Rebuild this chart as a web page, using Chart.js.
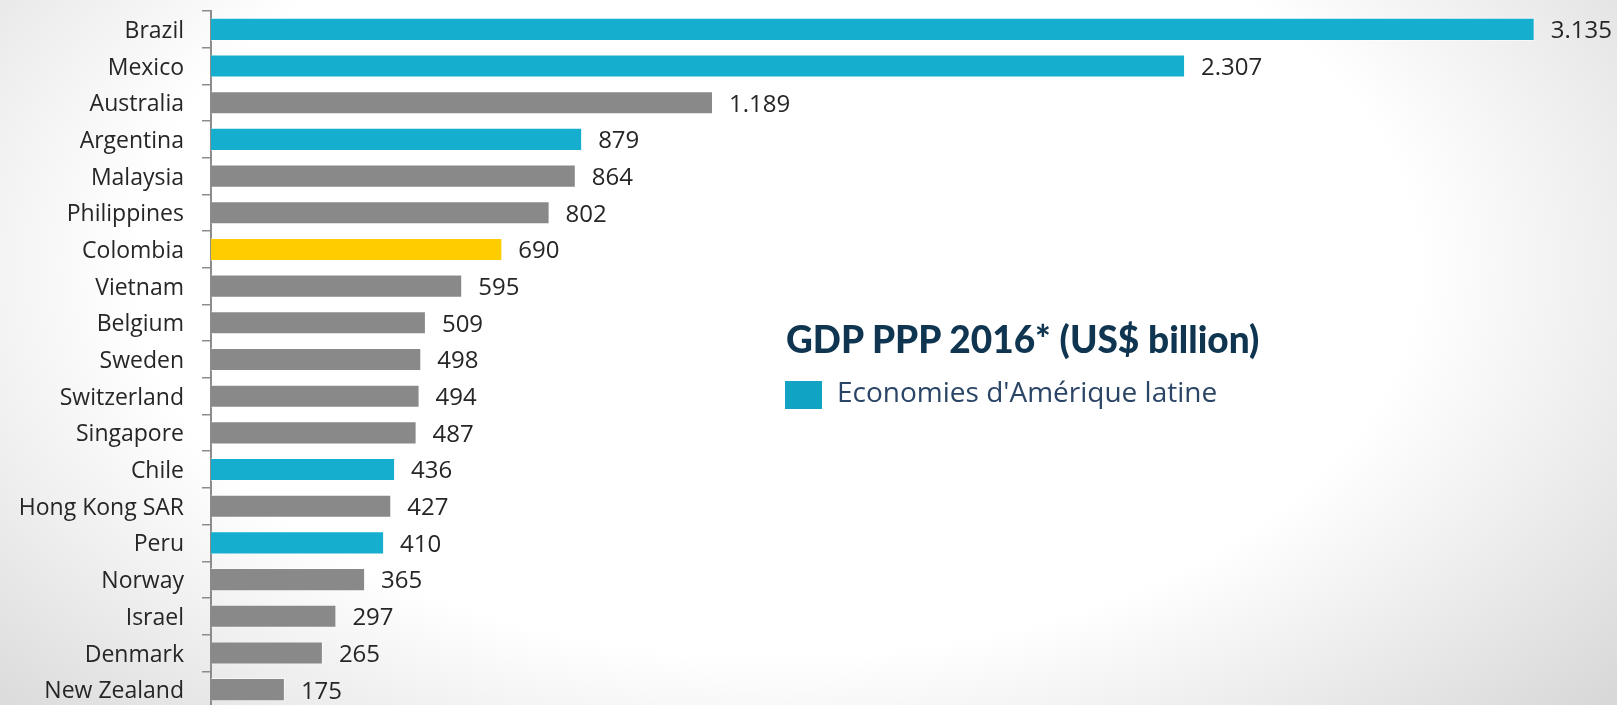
<!DOCTYPE html>
<html>
<head>
<meta charset="utf-8">
<script src="https://cdn.jsdelivr.net/npm/chart.js@4.4.1/dist/chart.umd.min.js"></script>
<style>
  html, body { margin: 0; padding: 0; overflow: hidden; }
  body {
    width: 1617px; height: 705px; position: relative;
    background: radial-gradient(ellipse 72% 100% at 48% 38%, #ffffff 55%, #d2d2d2 100%);
  }
  #wrap { position: absolute; left: 0; top: 0; width: 1617px; height: 720px; }
  #title {
    position: absolute; left: 786px; top: 316px;
    font: 900 37px Lato, sans-serif; color: #0f3550; white-space: nowrap;
  }
  #legendBox {
    position: absolute; left: 785px; top: 381px; width: 37px; height: 28px; background: #10a3c4;
  }
  #legendText {
    position: absolute; left: 837px; top: 372px; white-space: nowrap;
    font: 28px "Open Sans", sans-serif; color: #2b4566;
  }
</style>
</head>
<body>
<div id="wrap"><canvas id="gdp"></canvas></div>
<div id="title">GDP PPP 2016* (US$ billion)</div>
<div id="legendBox"></div>
<div id="legendText">Economies d'Amérique latine</div>
<script>
let countries = ['Brazil', 'Mexico', 'Australia', 'Argentina', 'Malaysia', 'Philippines', 'Colombia',
  'Vietnam', 'Belgium', 'Sweden', 'Switzerland', 'Singapore', 'Chile', 'Hong Kong SAR', 'Peru',
  'Norway', 'Israel', 'Denmark', 'New Zealand'];
let gdp = [3135, 2307, 1189, 879, 864, 802, 690, 595, 509, 498, 494, 487, 436, 427, 410, 365, 297, 265, 175];
let latam = ['Brazil', 'Mexico', 'Argentina', 'Chile', 'Peru'];
let highlight = ['Colombia'];

let teal = '#15aecf';
let grey = '#898989';
let yellow = '#ffcc00';

let barColors = countries.map((c) => {
  if (highlight.includes(c)) return yellow;
  if (latam.includes(c)) return teal;
  return grey;
});

// dot as thousands separator: 3135 -> 3.135
let fmt = (v) => String(v).replace(/\B(?=(\d{3})+(?!\d))/g, '.');

let valueLabels = {
  id: 'valueLabels',
  afterDatasetsDraw(chart) {
    let c = chart.ctx;
    let meta = chart.getDatasetMeta(0);
    c.save();
    c.font = '24px "Open Sans", sans-serif';
    c.fillStyle = '#262626';
    c.textAlign = 'left';
    c.textBaseline = 'middle';
    meta.data.forEach((bar, i) => {
      c.fillText(fmt(chart.data.datasets[0].data[i]), bar.x + 16, bar.y + 2);
    });
    c.restore();
  }
};

let ctx = document.getElementById('gdp').getContext('2d');
let chart = new Chart(ctx, {
  type: 'bar',
  data: {
    labels: countries,
    datasets: [{
      data: gdp,
      backgroundColor: barColors,
      borderColor: 'rgba(255,255,255,0.5)',
      borderWidth: 1,
      barPercentage: 0.63,
      categoryPercentage: 1
    }]
  },
  plugins: [valueLabels],
  options: {
    indexAxis: 'y',
    responsive: true,
    maintainAspectRatio: false,
    animation: false,
    layout: { padding: { top: 11, bottom: 12, left: 0, right: 0 } },
    plugins: {
      legend: { display: false },
      tooltip: { enabled: false }
    },
    scales: {
      x: {
        display: false,
        min: 0,
        max: 3330
      },
      y: {
        afterFit: (scale) => {
          scale.width = 211;
          // labels sit in band centres, no need for extra room above/below
          scale.paddingTop = 0;
          scale.paddingBottom = 0;
        },
        grid: {
          drawOnChartArea: false,
          drawTicks: true,
          tickLength: 9,
          color: '#8c8c8c',
          lineWidth: 1.5
        },
        border: { color: '#8c8c8c', width: 2 },
        ticks: {
          padding: 18,
          labelOffset: 2,
          color: '#262626',
          font: { family: 'Open Sans', size: 23 }
        }
      }
    }
  }
});
</script>
</body>
</html>
